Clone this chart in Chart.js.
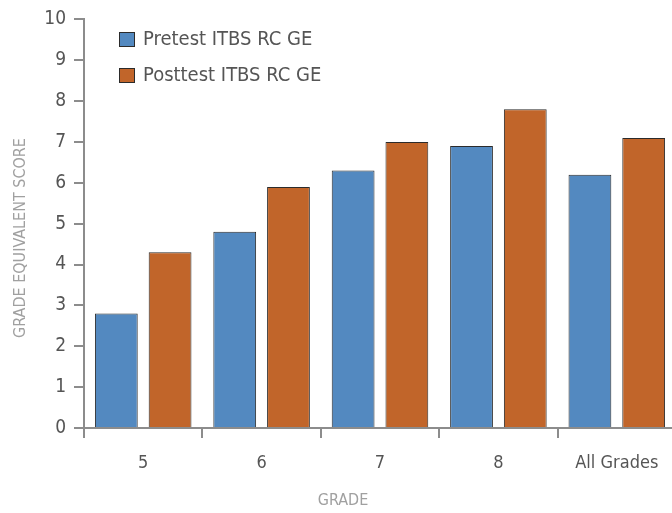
<!DOCTYPE html>
<html>
<head>
<meta charset="utf-8">
<script src="https://cdn.jsdelivr.net/npm/chart.js@4/dist/chart.umd.min.js"></script>
<style>
  html, body { margin: 0; padding: 0; background: #fff; overflow: hidden; }
  #wrap { width: 676px; height: 513px; }
</style>
</head>
<body>
<div id="wrap"><canvas id="gradeChart" width="676" height="513"></canvas></div>
<script>
// Data
const grades = ['5', '6', '7', '8', 'All Grades'];
const pretest = [2.8, 4.8, 6.3, 6.9, 6.2];
const posttest = [4.3, 5.9, 7.0, 7.8, 7.1];
const yTicks = [0, 1, 2, 3, 4, 5, 6, 7, 8, 9, 10];

const blue = '#5389c0';
const orange = '#c1652a';
const edge = '#2b2b2b';
const axisGrey = '#8c8c8c';
const fontFamily = '"Liberation Sans Narrow", "DejaVu Sans Condensed", "Roboto", sans-serif';

Chart.defaults.font.family = fontFamily;
Chart.defaults.color = '#555';

// Legend stacked in the top-left of the plot, axis titles placed like the original
const decorations = {
    id: 'decorations',
    afterDraw(chart) {
        const ctx = chart.ctx;
        ctx.save();
        chart.data.datasets.forEach(function(ds, i) {
            const x = 119, y = 32 + i * 36;
            ctx.fillStyle = ds.backgroundColor;
            ctx.fillRect(x, y, 16, 15);
            ctx.strokeStyle = edge;
            ctx.lineWidth = 1;
            ctx.strokeRect(x + 0.5, y + 0.5, 15, 14);
            ctx.fillStyle = '#555';
            ctx.font = '20px ' + fontFamily;
            ctx.textBaseline = 'middle';
            ctx.textAlign = 'left';
            ctx.fillText(ds.label, x + 24, y + 8);
        });

        ctx.fillStyle = '#a0a0a0';
        ctx.font = '16px ' + fontFamily;
        ctx.textAlign = 'center';
        ctx.textBaseline = 'middle';
        ctx.fillText('GRADE', 343, 501);

        ctx.translate(21, 238);
        ctx.rotate(-Math.PI / 2);
        ctx.fillText('GRADE EQUIVALENT SCORE', 0, 0);
        ctx.restore();
    }
};

new Chart(document.getElementById('gradeChart'), {
    type: 'bar',
    data: {
        labels: grades,
        datasets: [{
            label: 'Pretest ITBS RC GE',
            data: pretest,
            backgroundColor: blue,
            borderColor: edge,
            borderWidth: 1,
            categoryPercentage: 0.908,
            barPercentage: 0.796
        }, {
            label: 'Posttest ITBS RC GE',
            data: posttest,
            backgroundColor: orange,
            borderColor: edge,
            borderWidth: 1,
            categoryPercentage: 0.908,
            barPercentage: 0.796
        }]
    },
    options: {
        responsive: false,
        animation: false,
        layout: {
            padding: { top: 19, right: 0, bottom: 0, left: 0 }
        },
        plugins: {
            legend: { display: false },
            tooltip: { enabled: false }
        },
        scales: {
            x: {
                grid: {
                    offset: true,
                    drawOnChartArea: false,
                    drawTicks: true,
                    tickLength: 10,
                    color: axisGrey,
                    lineWidth: 2
                },
                border: { color: axisGrey, width: 2 },
                ticks: {
                    padding: 15,
                    color: '#555',
                    font: { size: 18 }
                },
                afterFit: function(scale) { scale.height = 85; }
            },
            y: {
                min: 0,
                max: 10,
                afterBuildTicks: function(scale) {
                    scale.ticks = yTicks.map(function(v) { return { value: v }; });
                },
                grid: {
                    drawOnChartArea: false,
                    drawTicks: true,
                    tickLength: 10,
                    color: axisGrey,
                    lineWidth: 2
                },
                border: { color: axisGrey, width: 2 },
                ticks: {
                    padding: 8,
                    color: '#555',
                    font: { size: 19 }
                },
                afterFit: function(scale) { scale.width = 84; }
            }
        }
    },
    plugins: [decorations]
});
</script>
</body>
</html>
